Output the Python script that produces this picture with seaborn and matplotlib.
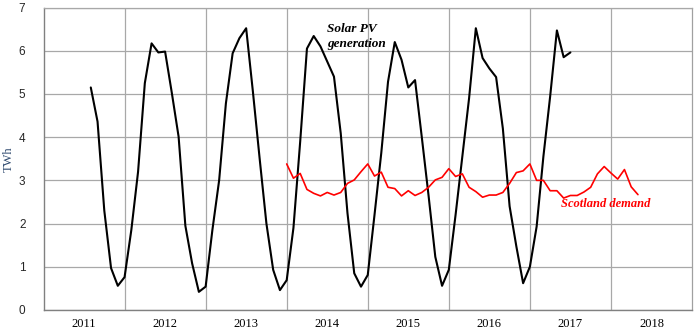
import numpy as np
import pandas as pd
import matplotlib
matplotlib.use("Agg")
import matplotlib.pyplot as plt
import seaborn as sns

# ---- data (monthly, first solar point = Aug 2011) ----
solar_twh = [5.15, 4.36, 2.30, 0.97, 0.56, 0.76, 1.85, 3.20, 5.25, 6.17, 5.96, 5.98,
             5.02, 4.01, 1.95, 1.08, 0.42, 0.54, 1.85, 3.00, 4.78, 5.94, 6.29, 6.52,
             5.05, 3.50, 2.00, 0.93, 0.46, 0.69, 1.90, 3.90, 6.05, 6.34, 6.10, 5.75,
             5.40, 4.09, 2.24, 0.85, 0.54, 0.81, 2.20, 3.63, 5.28, 6.20, 5.79, 5.15,
             5.32, 4.00, 2.65, 1.23, 0.56, 0.93, 2.20, 3.55, 4.90, 6.52, 5.83, 5.59,
             5.39, 4.20, 2.40, 1.47, 0.62, 1.00, 1.93, 3.55, 4.94, 6.47, 5.85, 5.96]
solar_start_month = 7      # months after Jan 2011

demand_twh = [3.38, 3.05, 3.16, 2.79, 2.70, 2.64, 2.72, 2.66, 2.72, 2.93, 3.01, 3.20,
              3.38, 3.10, 3.19, 2.84, 2.81, 2.64, 2.76, 2.65, 2.72, 2.84, 3.01, 3.07,
              3.27, 3.09, 3.15, 2.84, 2.74, 2.61, 2.66, 2.66, 2.72, 2.93, 3.18, 3.22,
              3.38, 3.00, 3.00, 2.76, 2.76, 2.59, 2.65, 2.65, 2.73, 2.84, 3.15, 3.32,
              3.17, 3.03, 3.25, 2.85, 2.67]
demand_start_month = 36    # Jan 2014

year_labels = ["2011", "2012", "2013", "2014", "2015", "2016", "2017", "2018"]
y_ticks = [0, 1, 2, 3, 4, 5, 6, 7]

solar_df = pd.DataFrame({
    "t": [2011 + (solar_start_month + i) / 12 for i in range(len(solar_twh))],
    "TWh": solar_twh})
demand_df = pd.DataFrame({
    "t": [2011 + (demand_start_month + i) / 12 for i in range(len(demand_twh))],
    "TWh": demand_twh})

sns.set_style("white")
fig = plt.figure(figsize=(7.0, 3.33), dpi=100)
ax = fig.add_axes([43.5 / 700, 1 - 310 / 333, (692 - 43.5) / 700, (310 - 7.5) / 333])

sns.lineplot(data=solar_df, x="t", y="TWh", ax=ax, color="black", linewidth=1.5)
sns.lineplot(data=demand_df, x="t", y="TWh", ax=ax, color="#FF0000", linewidth=1.2)

ax.set_xlim(2011, 2019)
ax.set_ylim(0, 7)

# year labels centred in each year band; grid lines at year boundaries
ax.set_xticks([2011.5 + i for i in range(len(year_labels))])
ax.set_xticklabels(year_labels, fontfamily="Liberation Serif", fontsize=9)
ax.set_xticks([2011 + i for i in range(9)], minor=True)
ax.tick_params(axis="x", which="major", length=0, pad=6, colors="black")
ax.tick_params(axis="x", which="minor", length=4, width=0.8, color="#808080", direction="out")

ax.set_yticks(y_ticks)
ax.set_yticklabels([str(v) for v in y_ticks], fontfamily="Liberation Sans", fontsize=8.5)
ax.tick_params(axis="y", which="major", length=6, width=0.8, color="#909090", pad=7, direction="out")

ax.grid(False)
for v in y_ticks:
    ax.axhline(v, color="#A8A8A8", linewidth=0.9, zorder=0)
for yr in range(2012, 2019):
    ax.axvline(yr, color="#A8A8A8", linewidth=0.9, zorder=0)

for side in ["left", "bottom"]:
    ax.spines[side].set_color("#808080")
    ax.spines[side].set_linewidth(1.0)
ax.spines["right"].set_color("#A0A0A0")
ax.spines["right"].set_linewidth(0.9)
ax.spines["top"].set_color("#A8A8A8")
ax.spines["top"].set_linewidth(0.9)

ax.set_xlabel("")
ax.set_ylabel("TWh", fontfamily="Liberation Serif", fontsize=9, color="#2F4A6F", labelpad=3)

ax.text(2014.5, 6.64, "Solar PV\ngeneration", fontfamily="Liberation Serif",
        fontstyle="italic", fontweight="bold", fontsize=9.5, color="black",
        ha="left", va="top", linespacing=1.3)
ax.text(2017.38, 2.45, "Scotland demand", fontfamily="Liberation Serif",
        fontstyle="italic", fontweight="bold", fontsize=9, color="#FF0000",
        ha="left", va="center")

fig.savefig("out.png", dpi=100, facecolor="white")
